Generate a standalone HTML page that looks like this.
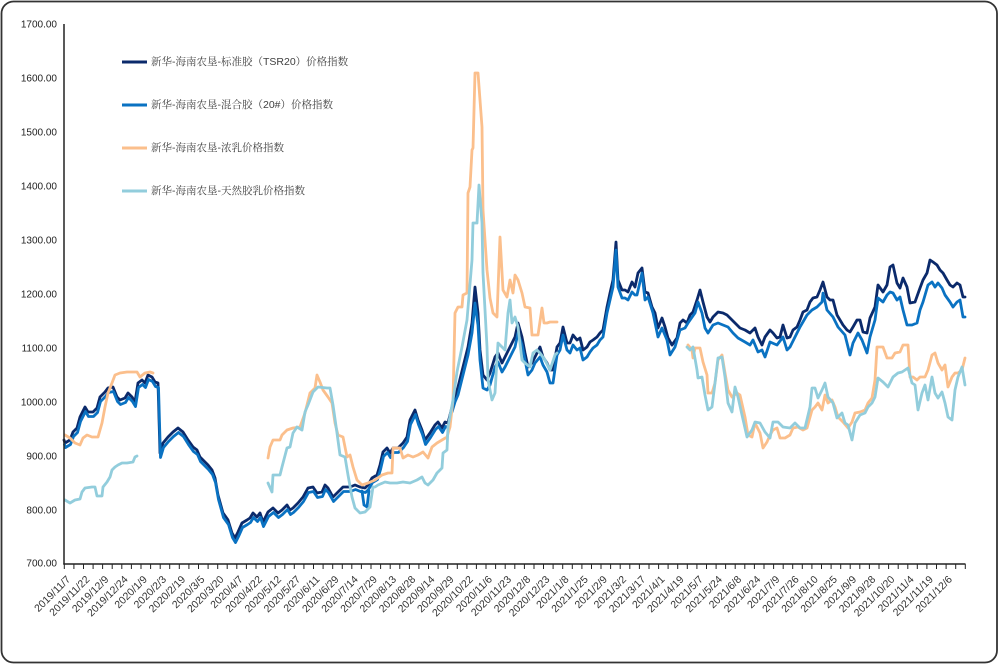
<!DOCTYPE html>
<html>
<head>
<meta charset="utf-8">
<style>
html,body{margin:0;padding:0;background:#fff;}
svg{display:block;}
.yl{font-family:"Liberation Sans",sans-serif;font-size:10px;fill:#222;}
.xl{font-family:"Liberation Sans",sans-serif;font-size:10.5px;fill:#333;}
.lg{font-family:"Liberation Sans","Noto Serif CJK SC",serif;font-size:10.5px;fill:#404040;}
.s{fill:none;stroke-width:2.8;stroke-linejoin:round;stroke-linecap:round;}
</style>
</head>
<body>
<svg width="1000" height="665" viewBox="0 0 1000 665" xmlns="http://www.w3.org/2000/svg">
<rect x="1.5" y="1.5" width="995.5" height="661" rx="12" ry="12" fill="#fff" stroke="#333" stroke-width="1.8"/>

<!-- y labels -->
<g class="yl" text-anchor="end" dominant-baseline="central">
<text x="57" y="25">1700.00</text>
<text x="57" y="79">1600.00</text>
<text x="57" y="133">1500.00</text>
<text x="57" y="187">1400.00</text>
<text x="57" y="241">1300.00</text>
<text x="57" y="295">1200.00</text>
<text x="57" y="349">1100.00</text>
<text x="57" y="403">1000.00</text>
<text x="57" y="457">900.00</text>
<text x="57" y="511">800.00</text>
<text x="57" y="564">700.00</text>
</g>

<defs>
<clipPath id="cl"><rect x="60" y="0" width="392" height="600"/></clipPath>
<polyline id="pa" points="64,440 65,443 70,440 73,432 77,428 80,417 85,407 88,412 93,412 97,408 100,397 105,392 108,388 113,387 117,397 120,400 125,398 128,393 132,397 135,402 138,383 142,380 145,383 148,375 152,377 155,382 158,383 160,453 163,443 168,437 173,432 178,428 183,432 188,440 193,447 197,450 200,457 205,462 208,465 212,470 215,478 218,495 223,513 228,520 232,533 235,538 238,532 242,523 247,520 250,518 253,513 257,517 260,513 263,522 268,512 273,508 278,513 282,510 287,505 290,510 293,508 298,503 303,497 308,488 313,487 317,493 322,492 325,485 328,488 333,497 338,492 343,487 350,487 355,485 360,487 365,488 368,485 372,478 377,475 380,465 383,452 387,448 390,453 393,448 398,448 403,443 407,437 410,420 415,410 418,420 422,430 425,440 430,433 435,425 438,422 442,428 445,422 448,423 452,407 455,397"/>
</defs>

<!-- Series A: 标准胶 -->
<use href="#pa" class="s" stroke="#0b2a6b"/>
<polyline class="s" stroke="#0b2a6b" points="455,397 458,387 463,367 468,347 472,323 475,287 478,313 480,350 483,375 487,380 490,373 495,357 498,353 502,363 505,357 510,347 515,337 518,323 522,337 525,353 528,367 532,363 535,357 540,347 543,357 547,363 550,370 553,370 557,347 560,343 563,327 567,343 570,343 573,335 577,340 580,338 583,350 587,347 590,342 593,340 597,337 600,333 603,330 607,307 610,293 613,280 616,242 618,280 622,290 625,290 628,292 632,282 635,287 638,273 642,268 645,292 648,293 652,307 655,313 658,328 662,318 665,327 668,338 672,345 677,338 680,323 683,320 687,323 690,315 693,312 697,300 700,290 703,302 707,317 710,322 713,317 718,312 723,313 727,315 730,318 735,323 740,328 745,330 750,333 755,328 758,337 762,345 765,337 770,330 773,333 777,338 780,337 783,325 787,338 790,337 793,330 797,327 800,320 803,312 807,310 810,302 813,298 817,297 820,290 823,282 827,297 830,300 833,300 837,315 840,320 843,325 847,330 850,332 853,327 857,320 860,320 863,332 867,333 870,318 875,307 878,285 883,292 887,285 890,267 893,265 897,283 900,288 903,278 907,287 910,303 915,302 920,288 923,280 927,273 930,260 933,262 937,265 940,270 943,273 947,280 950,285 953,287 957,283 960,285 963,297 965,297"/>

<!-- Series B: 混合胶 -->
<g clip-path="url(#cl)"><use href="#pa" class="s" stroke="#0a72c2" transform="translate(0.5,4.5)"/></g>
<polyline class="s" stroke="#0a72c2" points="362,491 364,505 367,507 369,491"/>
<polyline class="s" stroke="#0a72c2" points="452,412 455,402 458,395 463,375 468,355 472,333 475,303 478,325 480,360 483,388 487,390 490,385 495,367 498,362 502,372 505,367 510,357 515,347 518,333 522,345 525,360 528,375 532,370 535,363 540,357 543,365 547,372 550,383 553,383 557,355 560,350 563,335 567,350 570,353 573,345 577,350 580,348 583,360 587,357 590,352 593,348 597,345 600,340 603,337 607,313 610,300 613,287 616,250 618,287 622,298 625,298 628,300 632,292 635,295 637,295 642,273 645,300 648,297 653,313 658,337 662,328 667,340 670,355 675,347 680,330 685,328 688,323 695,313 698,302 702,313 705,328 708,333 713,325 718,323 723,325 728,327 733,333 738,338 745,342 750,345 753,340 758,352 762,350 765,357 770,342 777,345 783,337 787,350 790,347 795,337 800,327 807,315 812,310 817,307 822,302 823,293 827,310 833,317 838,327 845,335 850,355 853,343 858,333 862,340 867,353 870,337 875,320 878,298 883,302 887,295 890,292 893,293 897,300 900,297 903,310 907,325 912,325 917,323 920,310 923,302 928,285 932,282 935,287 938,283 942,288 945,295 950,302 953,307 957,302 960,300 963,317 965,317"/>

<!-- Series C: 浓乳 -->
<g class="s" stroke="#fbbf8c">
<polyline points="65,435 70,438 75,443 80,445 83,438 87,435 92,437 98,437 102,423 105,407 108,393 112,383 115,375 120,373 127,372 137,372 140,377 145,373 150,372 153,373"/>
<polyline points="268,458 270,447 273,440 280,440 282,435 287,430 293,428 300,427 305,413 310,393 315,388 317,375 320,382 323,390 328,397 332,403 335,423 338,435 343,437 347,457 350,455 353,467 357,480 362,485 368,483 375,480 382,475 388,473 392,473 393,448 400,448 403,458 408,455 413,457 418,455 423,452 428,458 432,447 437,443 442,440 447,437 450,427 453,400 455,313 458,307 462,307 463,295 467,293 468,193 470,187 472,150 473,148 475,73 478,73 482,127 483,210 487,270 490,298 493,313 497,317 498,290 500,237 503,290 507,297 510,280 513,293 515,275 518,280 522,293 525,307 530,308 532,335 538,335 542,308 544,323 547,323 550,322 557,322"/>
<polyline points="688,345 692,350 693,358 695,348 700,348 703,362 707,375 708,393 712,393 715,383 718,360 722,355 725,373 728,390 732,397 737,393 740,395 745,417 748,435 752,437 755,423 760,433 763,448 767,442 770,435 773,430 777,428 780,438 785,438 790,435 793,428 798,427 803,430 807,428 812,410 815,407 818,403 822,410 825,395 828,403 832,400 835,407 838,417 843,422 848,428 852,422 855,413 860,412 865,410 868,403 872,398 875,380 877,347 883,347 887,358 892,358 895,353 900,352 903,345 908,345 910,377 913,377 917,380 920,377 925,377 928,370 932,355 935,353 938,363 942,370 945,365 948,387 952,377 955,373 958,373 962,370 965,358"/>
</g>

<!-- Series D: 天然胶乳 -->
<g class="s" stroke="#92cddc">
<polyline points="65,500 70,503 75,500 80,499 82,492 85,488 92,487 95,487 97,496 102,496 103,487 107,482 110,477 112,470 115,467 118,465 122,463 127,463 133,462 135,457 137,456"/>
<polyline points="268,483 272,492 273,475 280,475 282,467 287,448 290,447 293,433 297,427 302,430 305,412 308,405 313,392 318,387 327,388 330,388 333,405 337,433 340,455 345,457 348,475 352,497 355,508 360,513 365,512 370,507 373,487 375,487 378,485 385,482 390,483 397,483 403,482 410,483 417,480 422,477 425,483 428,485 433,480 437,473 442,468 443,453 447,450 448,427 453,400 457,372 462,347 467,320 472,260 473,223 477,223 479,185 482,223 483,273 487,347 488,380 492,400 495,393 498,343 502,347 505,350 508,313 510,300 512,323 515,317 518,327 522,360 525,363 530,367 533,353 537,350 540,353 545,360 550,370 555,355 557,353"/>
<polyline points="687,347 690,350 693,347 697,370 698,378 702,377 705,395 708,410 712,407 715,383 718,358 722,357 725,377 728,403 732,412 735,387 738,397 742,415 747,437 752,430 755,422 760,423 765,432 770,438 773,422 778,422 783,427 790,428 795,423 800,428 805,428 810,407 812,388 815,388 818,398 822,390 825,383 828,397 833,403 837,418 842,413 845,423 848,425 852,440 855,423 860,415 865,413 868,407 872,403 875,397 878,378 883,382 888,387 893,377 898,373 902,372 905,370 908,368 912,383 915,385 918,410 922,393 925,385 928,400 932,377 935,393 938,398 942,392 945,403 948,417 952,420 955,390 958,377 962,367 965,385"/>
</g>

<!-- axes -->
<line x1="64" y1="24" x2="64" y2="564.5" stroke="#222" stroke-width="1.5"/>
<line x1="63.3" y1="564" x2="965.5" y2="564" stroke="#222" stroke-width="1.5"/>
<g stroke="#222" stroke-width="1">
<path d="M64.3 564v5M73.9 564v5M83.5 564v5M93.1 564v5M102.6 564v5M112.2 564v5M121.8 564v5M131.4 564v5M141 564v5M150.6 564v5M160.2 564v5M169.7 564v5M179.3 564v5M188.9 564v5M198.5 564v5M208.1 564v5M217.7 564v5M227.2 564v5M236.8 564v5M246.4 564v5M256 564v5M265.6 564v5M275.2 564v5M284.8 564v5M294.3 564v5M303.9 564v5M313.5 564v5M323.1 564v5M332.7 564v5M342.3 564v5M351.8 564v5M361.4 564v5M371 564v5M380.6 564v5M390.2 564v5M399.8 564v5M409.4 564v5M418.9 564v5M428.5 564v5M438.1 564v5M447.7 564v5M457.3 564v5M466.9 564v5M476.4 564v5M486 564v5M495.6 564v5M505.2 564v5M514.8 564v5M524.4 564v5M534 564v5M543.5 564v5M553.1 564v5M562.7 564v5M572.3 564v5M581.9 564v5M591.5 564v5M601 564v5M610.6 564v5M620.2 564v5M629.8 564v5M639.4 564v5M649 564v5M658.6 564v5M668.1 564v5M677.7 564v5M687.3 564v5M696.9 564v5M706.5 564v5M716.1 564v5M725.6 564v5M735.2 564v5M744.8 564v5M754.4 564v5M764 564v5M773.6 564v5M783.2 564v5M792.7 564v5M802.3 564v5M811.9 564v5M821.5 564v5M831.1 564v5M840.7 564v5M850.2 564v5M859.8 564v5M869.4 564v5M879 564v5M888.6 564v5M898.2 564v5M907.8 564v5M917.3 564v5M926.9 564v5M936.5 564v5M946.1 564v5M955.7 564v5M965.3 564v5"/>
</g>

<!-- x labels -->
<g class="xl" text-anchor="end">
<text transform="translate(71,580) rotate(-45)">2019/11/7</text>
<text transform="translate(90.2,580) rotate(-45)">2019/11/22</text>
<text transform="translate(109.3,580) rotate(-45)">2019/12/9</text>
<text transform="translate(128.5,580) rotate(-45)">2019/12/24</text>
<text transform="translate(147.7,580) rotate(-45)">2020/1/9</text>
<text transform="translate(166.9,580) rotate(-45)">2020/2/3</text>
<text transform="translate(186,580) rotate(-45)">2020/2/19</text>
<text transform="translate(205.2,580) rotate(-45)">2020/3/5</text>
<text transform="translate(224.4,580) rotate(-45)">2020/3/20</text>
<text transform="translate(243.5,580) rotate(-45)">2020/4/7</text>
<text transform="translate(262.7,580) rotate(-45)">2020/4/22</text>
<text transform="translate(281.9,580) rotate(-45)">2020/5/12</text>
<text transform="translate(301,580) rotate(-45)">2020/5/27</text>
<text transform="translate(320.2,580) rotate(-45)">2020/6/11</text>
<text transform="translate(339.4,580) rotate(-45)">2020/6/29</text>
<text transform="translate(358.6,580) rotate(-45)">2020/7/14</text>
<text transform="translate(377.7,580) rotate(-45)">2020/7/29</text>
<text transform="translate(396.9,580) rotate(-45)">2020/8/13</text>
<text transform="translate(416.1,580) rotate(-45)">2020/8/28</text>
<text transform="translate(435.2,580) rotate(-45)">2020/9/14</text>
<text transform="translate(454.4,580) rotate(-45)">2020/9/29</text>
<text transform="translate(473.6,580) rotate(-45)">2020/10/22</text>
<text transform="translate(492.7,580) rotate(-45)">2020/11/6</text>
<text transform="translate(511.9,580) rotate(-45)">2020/11/23</text>
<text transform="translate(531.1,580) rotate(-45)">2020/12/8</text>
<text transform="translate(550.3,580) rotate(-45)">2020/12/23</text>
<text transform="translate(569.4,580) rotate(-45)">2021/1/8</text>
<text transform="translate(588.6,580) rotate(-45)">2021/1/25</text>
<text transform="translate(607.8,580) rotate(-45)">2021/2/9</text>
<text transform="translate(626.9,580) rotate(-45)">2021/3/2</text>
<text transform="translate(646.1,580) rotate(-45)">2021/3/17</text>
<text transform="translate(665.3,580) rotate(-45)">2021/4/1</text>
<text transform="translate(684.4,580) rotate(-45)">2021/4/19</text>
<text transform="translate(703.6,580) rotate(-45)">2021/5/7</text>
<text transform="translate(722.8,580) rotate(-45)">2021/5/24</text>
<text transform="translate(742,580) rotate(-45)">2021/6/8</text>
<text transform="translate(761.1,580) rotate(-45)">2021/6/24</text>
<text transform="translate(780.3,580) rotate(-45)">2021/7/9</text>
<text transform="translate(799.5,580) rotate(-45)">2021/7/26</text>
<text transform="translate(818.6,580) rotate(-45)">2021/8/10</text>
<text transform="translate(837.8,580) rotate(-45)">2021/8/25</text>
<text transform="translate(857,580) rotate(-45)">2021/9/9</text>
<text transform="translate(876.1,580) rotate(-45)">2021/9/28</text>
<text transform="translate(895.3,580) rotate(-45)">2021/10/20</text>
<text transform="translate(914.5,580) rotate(-45)">2021/11/4</text>
<text transform="translate(933.7,580) rotate(-45)">2021/11/19</text>
<text transform="translate(952.8,580) rotate(-45)">2021/12/6</text>
</g>

<!-- legend -->
<g stroke-width="3" stroke-linecap="butt">
<line x1="122" y1="62" x2="147" y2="62" stroke="#0b2a6b"/>
<line x1="122" y1="105" x2="147" y2="105" stroke="#0a72c2"/>
<line x1="122" y1="148" x2="147" y2="148" stroke="#fbbf8c"/>
<line x1="122" y1="191" x2="147" y2="191" stroke="#92cddc"/>
</g>
<g class="lg" dominant-baseline="central">
<text x="151" y="62">新华-海南农垦-标准胶（TSR20）价格指数</text>
<text x="151" y="105">新华-海南农垦-混合胶（20#）价格指数</text>
<text x="151" y="148">新华-海南农垦-浓乳价格指数</text>
<text x="151" y="191">新华-海南农垦-天然胶乳价格指数</text>
</g>
</svg>
</body>
</html>
